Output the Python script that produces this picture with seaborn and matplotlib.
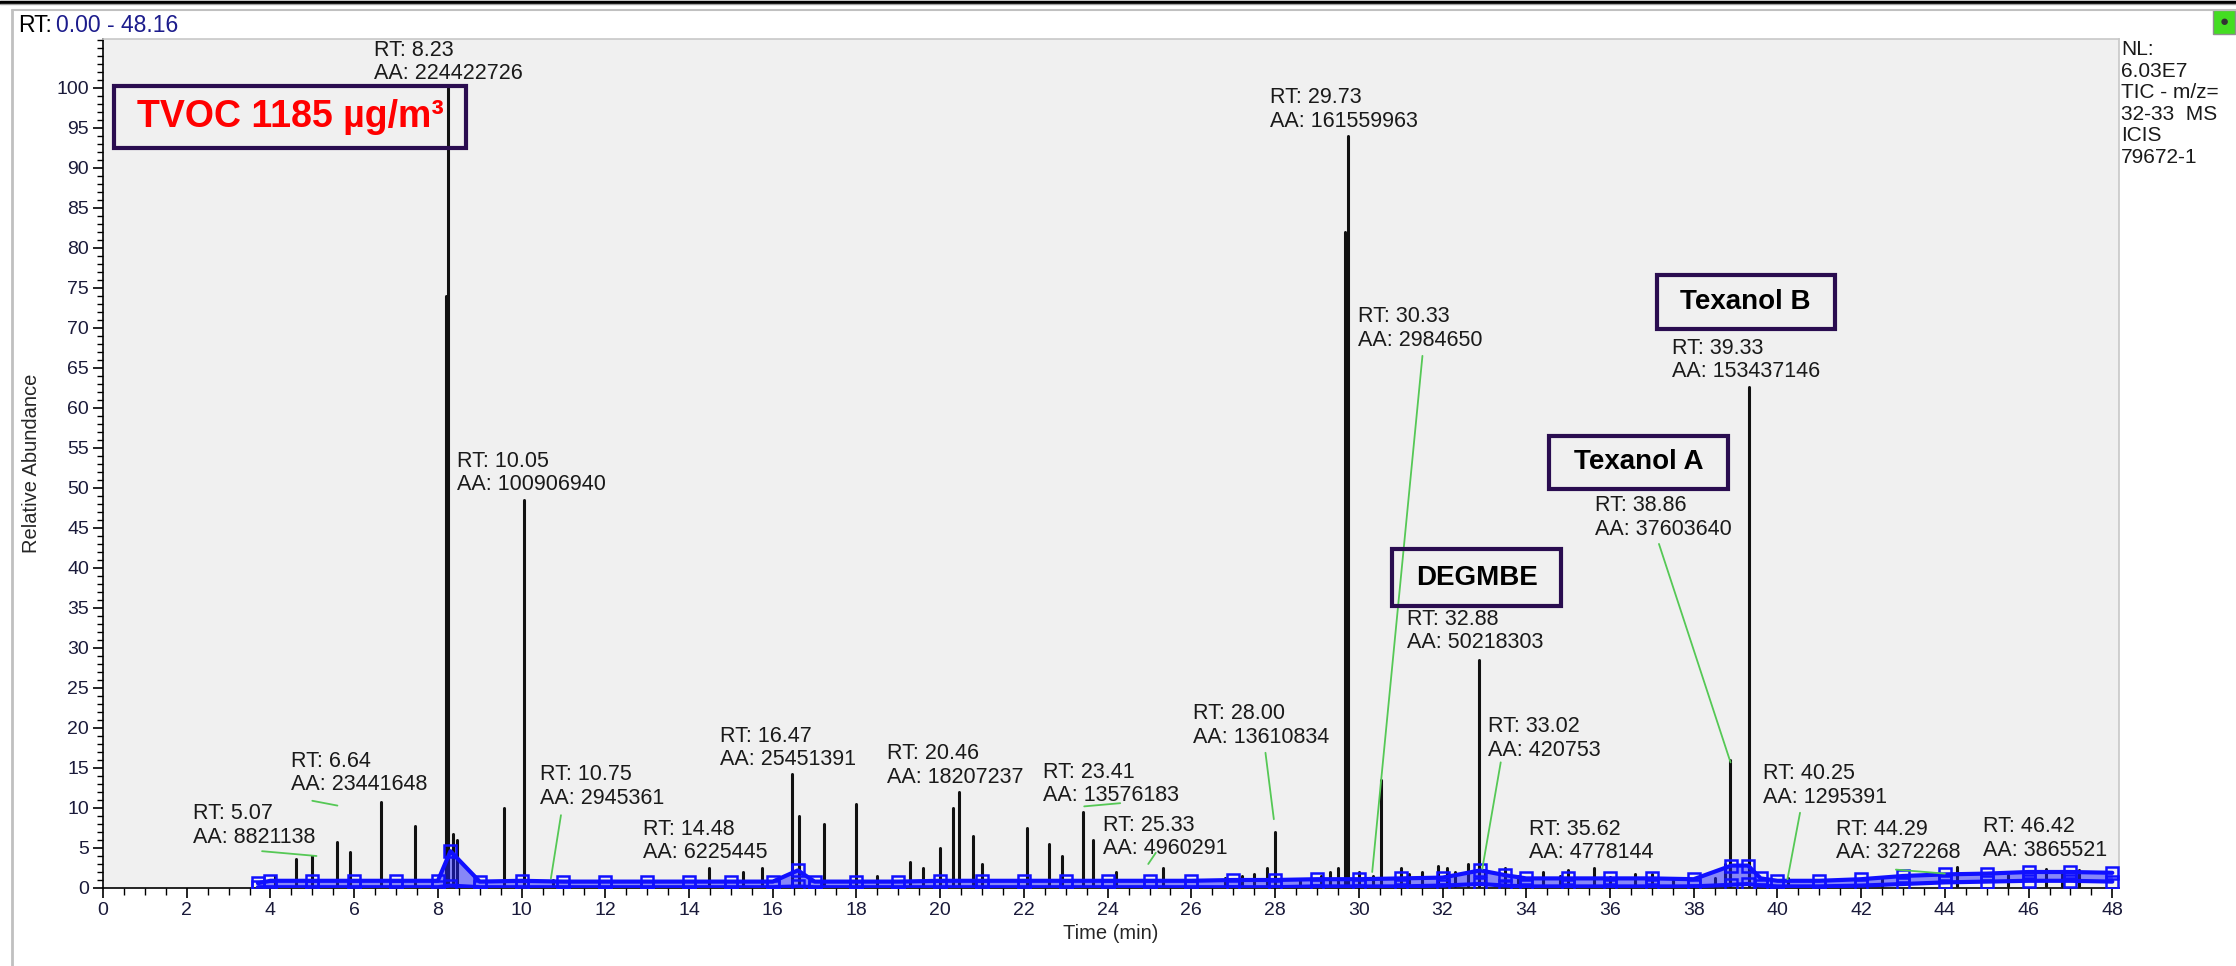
import numpy as np
import pandas as pd
import matplotlib.pyplot as plt
import seaborn as sns
from matplotlib.patches import Rectangle
from matplotlib.lines import Line2D
from matplotlib.ticker import MultipleLocator

# peaks of the TIC trace: retention time (min) and relative abundance (%)
peak_rt = [4.1, 4.6, 5.0, 5.6, 5.9, 6.64, 7.45, 8.20, 8.23, 8.35, 8.45, 9.57, 10.05, 10.75,
           14.48, 15.3, 15.75, 16.47, 16.62, 17.22, 17.99, 18.5, 19.28, 19.6, 20.0, 20.3, 20.46,
           20.78, 21.0, 22.08, 22.6, 22.9, 23.41, 23.65, 24.2, 25.33, 26.8, 27.2, 27.5, 27.8,
           28.00, 28.6, 29.1, 29.3, 29.5, 29.68, 29.73, 30.0, 30.33, 30.52, 31.0, 31.2, 31.5,
           31.9, 32.1, 32.3, 32.6, 32.88, 33.02, 33.5, 33.8, 34.4, 34.8, 35.0, 35.62, 36.0,
           36.6, 37.0, 37.5, 38.5, 38.75, 38.86, 39.33, 40.25, 42.5, 44.29, 45.5, 46.42,
           46.8, 47.2]
peak_h = [1.5, 3.6, 4.0, 5.8, 4.5, 10.8, 7.8, 74.0, 100.0, 6.8, 6.0, 10.0, 48.5, 1.0,
          2.5, 2.0, 2.5, 14.3, 9.0, 8.0, 10.5, 1.5, 3.2, 2.5, 5.0, 10.0, 12.0,
          6.5, 3.0, 7.5, 5.5, 4.0, 9.5, 6.0, 2.0, 2.5, 1.2, 1.5, 1.8, 2.5,
          7.0, 1.0, 1.5, 2.0, 2.5, 82.0, 94.0, 2.0, 1.5, 13.5, 2.5, 1.8, 2.0,
          2.8, 2.5, 2.0, 3.0, 28.5, 2.2, 2.5, 1.5, 2.0, 1.5, 2.2, 2.5, 1.4,
          1.8, 1.8, 1.3, 1.2, 3.0, 16.0, 62.6, 1.2, 1.2, 2.6, 1.6, 2.4,
          2.0, 2.2]

# integrated baseline (blue band), lower and upper edge
base_rt = [3.7, 4, 5, 6, 7, 8, 8.3, 9, 10, 11, 12, 13, 14, 15, 16, 16.6, 17, 18, 19, 20, 21,
           22, 23, 24, 25, 26, 27, 28, 29, 30, 31, 32, 32.9, 33.5, 34, 35, 36, 37, 38, 38.9,
           39.3, 39.6, 40, 41, 42, 43, 44, 45, 46, 47, 48]
base_lo = [0.1, 0.1, 0.1, 0.1, 0.1, 0.1, 0.3, 0.1, 0.1, 0.1, 0.1, 0.1, 0.1, 0.1, 0.1, 0.2, 0.1,
           0.1, 0.1, 0.1, 0.1, 0.1, 0.1, 0.1, 0.1, 0.1, 0.1, 0.1, 0.2, 0.2, 0.2, 0.3, 0.5, 0.3,
           0.2, 0.2, 0.2, 0.2, 0.2, 0.4, 0.5, 0.3, 0.2, 0.2, 0.3, 0.5, 0.7, 0.8, 0.9, 0.9, 0.8]
base_hi = [0.6, 0.9, 0.9, 0.9, 0.9, 0.9, 4.6, 0.8, 0.9, 0.8, 0.8, 0.8, 0.8, 0.8, 0.8, 2.2, 0.8,
           0.8, 0.8, 0.9, 0.9, 0.9, 0.9, 0.9, 0.9, 0.9, 1.0, 1.0, 1.1, 1.1, 1.2, 1.3, 2.2, 1.6,
           1.2, 1.2, 1.2, 1.2, 1.1, 2.8, 2.8, 1.2, 0.9, 0.9, 1.1, 1.5, 1.7, 1.8, 2.0, 2.0, 1.9]

# RT / AA labels: peak RT, area, label x, label y (middle of the two lines)
lab_rt = ["8.23", "29.73", "30.33", "39.33", "10.05", "38.86", "32.88", "28.00", "33.02",
          "16.47", "20.46", "6.64", "10.75", "23.41", "40.25", "5.07", "25.33", "14.48",
          "35.62", "44.29", "46.42"]
lab_aa = ["224422726", "161559963", "2984650", "153437146", "100906940", "37603640",
          "50218303", "13610834", "420753", "25451391", "18207237", "23441648", "2945361",
          "13576183", "1295391", "8821138", "4960291", "6225445", "4778144", "3272268",
          "3865521"]
lab_x = [6.47, 27.87, 29.98, 37.48, 8.45, 35.64, 31.14, 26.03, 33.08, 14.75, 18.74, 4.50,
         10.43, 22.45, 39.66, 2.15, 23.88, 12.91, 34.07, 41.40, 44.91]
lab_y = [103.2, 97.3, 69.9, 66.0, 51.9, 46.3, 32.1, 20.3, 18.7, 17.5, 15.3, 14.4, 12.7,
         13.0, 12.8, 7.8, 6.4, 5.9, 5.9, 5.9, 6.2]

# green leader lines (x0, y0, x1, y1)
leaders = [(31.52, 66.5, 30.32, 2.0), (37.17, 43.0, 38.88, 15.7), (27.77, 16.9, 27.97, 8.6),
           (33.39, 15.7, 32.95, 2.4), (10.94, 9.1, 10.70, 1.2), (40.54, 9.4, 40.24, 1.1),
           (5.0, 10.9, 5.6, 10.3), (3.8, 4.6, 5.1, 4.0), (23.44, 10.2, 24.3, 10.6),
           (24.97, 3.0, 25.15, 4.4), (42.83, 2.3, 44.0, 1.8)]

# boxed compound labels: text, centre x, centre y, width, height, colour, size
box_txt = ["TVOC 1185 µg/m³", "Texanol B", "Texanol A", "DEGMBE"]
box_cx = [4.47, 39.24, 36.69, 32.82]
box_cy = [96.4, 73.25, 53.2, 38.8]
box_w = [8.41, 4.25, 4.28, 4.04]
box_h = [7.75, 6.75, 6.6, 7.1]
box_col = ["#ff0000", "black", "black", "black"]
box_fs = [27, 20, 20, 20]

side_text = "NL:\n6.03E7\nTIC - m/z=\n32-33  MS\nICIS\n79672-1"

sns.set_theme(style="ticks")
plt.rcParams['font.family'] = ['Liberation Sans', 'DejaVu Sans']

fig = plt.figure(figsize=(22.36, 9.66), dpi=100)
ax = fig.add_axes([103 / 2236, 78 / 966, 2016 / 2236, 849 / 966])
ax.set_facecolor("#f0f0f0")

# black trace: one vertical stroke per peak
rows = []
for i, (rt, h) in enumerate(zip(peak_rt, peak_h)):
    rows.append({"rt": rt, "abund": 0.3, "peak": i})
    rows.append({"rt": rt, "abund": h, "peak": i})
trace = pd.DataFrame(rows)
sns.lineplot(data=trace, x="rt", y="abund", units="peak", estimator=None,
             color="#111111", lw=2.2, ax=ax, legend=False, zorder=3)

# blue baseline band
base = pd.DataFrame({"rt": base_rt, "lo": base_lo, "hi": base_hi})
ax.fill_between(base["rt"], base["lo"], base["hi"], color="#2020ff", alpha=0.5, lw=0, zorder=4)
sns.lineplot(data=base, x="rt", y="lo", color="#1010ff", lw=3, marker="s", ms=8,
             mfc="none", mec="#1010ff", mew=1.8, ax=ax, zorder=5)
sns.lineplot(data=base, x="rt", y="hi", color="#1010ff", lw=3, marker="s", ms=8,
             mfc="none", mec="#1010ff", mew=1.8, ax=ax, zorder=5)

ax.set_xlim(0, 48.16)
ax.set_ylim(0, 106.1)
ax.xaxis.set_major_locator(MultipleLocator(2))
ax.xaxis.set_minor_locator(MultipleLocator(0.5))
ax.yaxis.set_major_locator(MultipleLocator(5))
ax.yaxis.set_minor_locator(MultipleLocator(1))
ax.set_yticks(np.arange(0, 101, 5))
ax.tick_params(axis="both", which="major", length=7, width=1.2, labelsize=14, colors="black",
               labelcolor="#1a1a3a", pad=3)
ax.tick_params(axis="both", which="minor", length=5, width=1.0, colors="black")
ax.tick_params(axis="y", which="minor", length=4)
for s in ["top", "right"]:
    ax.spines[s].set_color("#c8c8c8")
    ax.spines[s].set_linewidth(1.2)
for s in ["left", "bottom"]:
    ax.spines[s].set_color("black")
    ax.spines[s].set_linewidth(1.2)
ax.set_xlabel("Time (min)", fontsize=14.5, labelpad=4)
ax.set_ylabel("Relative Abundance", fontsize=14.5, labelpad=11)

for rt, aa, x, y in zip(lab_rt, lab_aa, lab_x, lab_y):
    ax.text(x, y, f"RT: {rt}\nAA: {aa}", fontsize=15.5, ha="left", va="center",
            color="#1a1a1a", linespacing=1.15, clip_on=False, zorder=6)

for x0, y0, x1, y1 in leaders:
    ax.plot([x0, x1], [y0, y1], color="#55c855", lw=1.3, zorder=6)

for t, cx, cy, w, h, c, fs in zip(box_txt, box_cx, box_cy, box_w, box_h, box_col, box_fs):
    ax.add_patch(Rectangle((cx - w / 2, cy - h / 2), w, h, facecolor="none",
                           edgecolor="#2a0d50", lw=3, zorder=7))
    ax.text(cx, cy, t, fontsize=fs, fontweight="bold", color=c, ha="center", va="center",
            zorder=8)

# window furniture
fig.text(18 / 2236, 1 - 25 / 966, "RT:", fontsize=16.5, color="black", va="center")
fig.text(56 / 2236, 1 - 25 / 966, "0.00 - 48.16", fontsize=16.5, color="#1c1c8c", va="center")
fig.text(2121 / 2236, 1 - 40 / 966, side_text, fontsize=15, color="#1a1a1a", va="top",
         linespacing=1.17)
fig.add_artist(Line2D([0, 1], [1 - 1.5 / 966, 1 - 1.5 / 966], color="black", lw=2.5))
fig.add_artist(Line2D([0, 1], [1 - 4 / 966, 1 - 4 / 966], color="#a0a0a0", lw=1))
fig.add_artist(Line2D([12 / 2236, 1], [1 - 10 / 966, 1 - 10 / 966], color="#c0c0c0", lw=1.5))
fig.add_artist(Line2D([12 / 2236, 12 / 2236], [0, 1 - 10 / 966], color="#c0c0c0", lw=2))
fig.add_artist(Rectangle((2213 / 2236, 1 - 34 / 966), 22 / 2236, 24 / 966,
                         transform=fig.transFigure, facecolor="#44dd22",
                         edgecolor="#909090", lw=1))
fig.text(2224 / 2236, 1 - 22 / 966, "●", fontsize=11, color="#333333", ha="center",
         va="center")

fig.savefig("out.png", dpi=100)
